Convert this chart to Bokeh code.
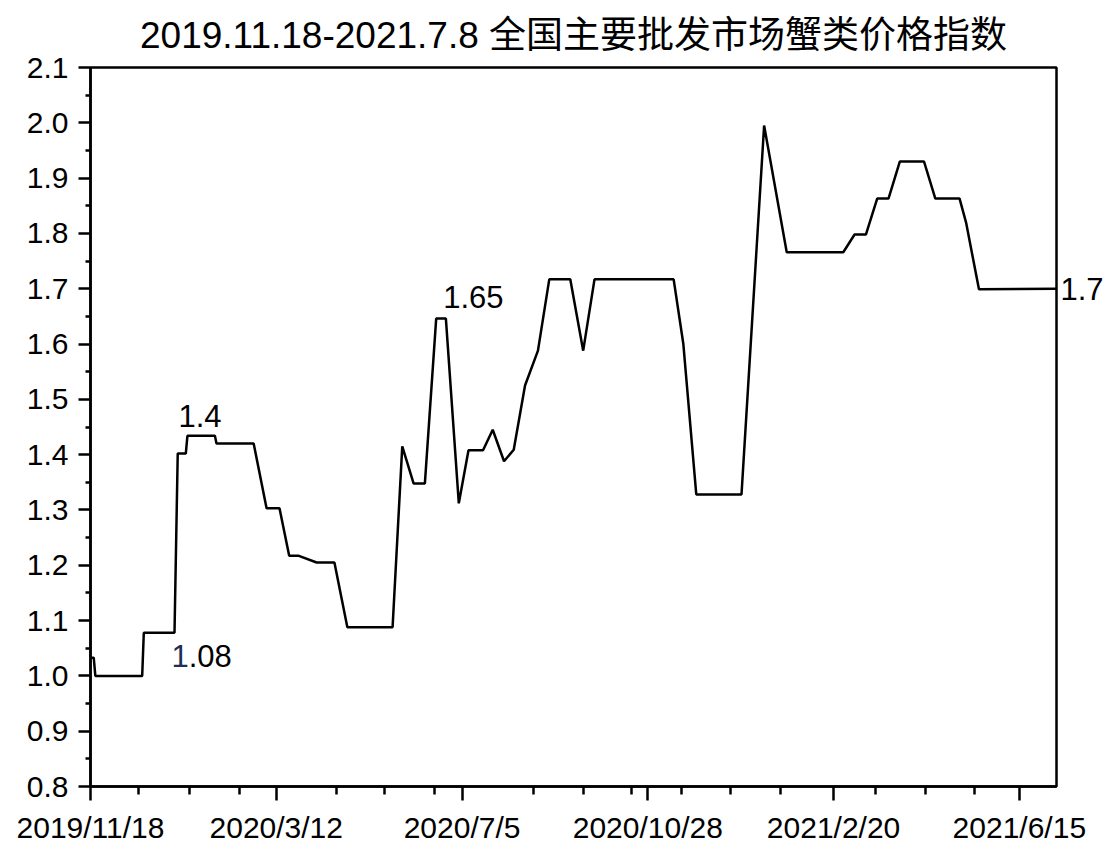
import pandas as pd
from bokeh.plotting import figure
from bokeh.models import (Range1d, FixedTicker, CustomJSTickFormatter, Label,
                          ColumnDataSource, LinearAxis)
from bokeh.embed import file_html
from bokeh.resources import INLINE

# ---------------- data ----------------
title_text = "2019.11.18-2021.7.8 全国主要批发市场蟹类价格指数"

dates = [
    "2019-11-18", "2019-11-20", "2019-11-21", "2019-12-20", "2019-12-21",
    "2020-01-09", "2020-01-11", "2020-01-16", "2020-01-17", "2020-02-03",
    "2020-02-04", "2020-02-27", "2020-03-06", "2020-03-14", "2020-03-20",
    "2020-03-26", "2020-04-06", "2020-04-17", "2020-04-25", "2020-05-23",
    "2020-05-29", "2020-06-05", "2020-06-12", "2020-06-19", "2020-06-25",
    "2020-07-03", "2020-07-09", "2020-07-18", "2020-07-24", "2020-07-31",
    "2020-08-06", "2020-08-13", "2020-08-21", "2020-08-28", "2020-09-10",
    "2020-09-18", "2020-09-25", "2020-11-13", "2020-11-19", "2020-11-27",
    "2020-12-25", "2021-01-08", "2021-01-22", "2021-02-26", "2021-03-05",
    "2021-03-12", "2021-03-19", "2021-03-26", "2021-04-02", "2021-04-17",
    "2021-04-24", "2021-05-09", "2021-05-13", "2021-05-21", "2021-07-08",
]
values = [
    1.033, 1.033, 1.000, 1.000, 1.078,
    1.078, 1.402, 1.402, 1.434, 1.434,
    1.420, 1.420, 1.303, 1.303, 1.217,
    1.217, 1.205, 1.205, 1.088, 1.088,
    1.415, 1.348, 1.348, 1.646, 1.646,
    1.312, 1.408, 1.408, 1.445, 1.388,
    1.409, 1.525, 1.588, 1.717, 1.717,
    1.588, 1.717, 1.717, 1.600, 1.328,
    1.328, 1.995, 1.766, 1.766, 1.798,
    1.798, 1.863, 1.863, 1.930, 1.930,
    1.863, 1.863, 1.820, 1.699, 1.700,
]

x_start = "2019-11-18"
x_end = "2021-07-08"
x_major_ticks = ["2019-11-18", "2020-03-12", "2020-07-05",
                 "2020-10-28", "2021-02-20", "2021-06-15"]
x_minor_ticks = ["2019-12-18", "2020-01-18", "2020-02-18", "2020-04-18",
                 "2020-05-18", "2020-06-18", "2020-08-18", "2020-09-18",
                 "2020-10-18", "2020-11-18", "2020-12-18", "2021-01-18",
                 "2021-03-18", "2021-04-18", "2021-05-18"]
y_min, y_max = 0.8, 2.1
y_major_ticks = [0.8, 0.9, 1.0, 1.1, 1.2, 1.3, 1.4, 1.5, 1.6, 1.7, 1.8, 1.9, 2.0, 2.1]
y_minor_ticks = [0.85, 0.95, 1.05, 1.15, 1.25, 1.35, 1.45, 1.55, 1.65, 1.75,
                 1.85, 1.95, 2.05]

# annotation texts and the data points they belong to
ann_texts = ["1.4", "1.65"]
ann_dates = ["2020-01-17", "2020-06-19"]
ann_values = [1.434, 1.646]
low_text_a, low_text_b = "1", ".08"
low_date, low_value = "2020-01-09", 1.078
end_value = values[-1]   # labelled "1.7" at the right edge


def ms(d):
    return pd.Timestamp(d).value / 1e6


# ---------------- figure ----------------
FONT = "Liberation Sans"
p = figure(width=1108, height=856, output_backend="svg", toolbar_location=None,
           x_range=Range1d(ms(x_start), ms(x_end)),
           y_range=Range1d(y_min, y_max),
           min_border_left=90, min_border_right=52,
           min_border_top=67, min_border_bottom=70,
           background_fill_color="white", border_fill_color="white")

p.title.text = title_text
p.title.align = "center"
p.title.text_font = "Liberation Sans, Noto Sans CJK SC"
p.title.text_font_size = "37px"
p.title.text_font_style = "normal"
p.title.text_color = "black"
p.title.standoff = 24

p.grid.visible = False
p.outline_line_color = "black"
p.outline_line_width = 2.5
p.outline_line_alpha = 1

src = ColumnDataSource(dict(x=[ms(d) for d in dates], y=values))
p.line(x="x", y="y", source=src, line_color="black", line_width=2.5)

xa = p.xaxis[0]
xa.ticker = FixedTicker(ticks=[ms(d) for d in x_major_ticks],
                        minor_ticks=[ms(d) for d in x_minor_ticks])
xa.formatter = CustomJSTickFormatter(code="""
const d = new Date(tick);
return d.getUTCFullYear() + "/" + (d.getUTCMonth() + 1) + "/" + d.getUTCDate();
""")
ya = p.yaxis[0]
ya.ticker = FixedTicker(ticks=y_major_ticks, minor_ticks=y_minor_ticks)
ya.formatter = CustomJSTickFormatter(code="return tick.toFixed(1);")

for ax in (xa, ya):
    ax.axis_line_color = "black"
    ax.axis_line_width = 2.5
    ax.major_tick_line_color = "black"
    ax.major_tick_line_width = 2.5
    ax.minor_tick_line_color = "black"
    ax.minor_tick_line_width = 2.5
    ax.major_tick_in = 0
    ax.minor_tick_in = 0
    ax.major_label_text_font = FONT
    ax.major_label_text_font_size = "30px"
    ax.major_label_text_color = "black"

xa.major_tick_out = 14
xa.minor_tick_out = 8
xa.major_label_standoff = 10
ya.major_tick_out = 12
ya.minor_tick_out = 5
ya.major_label_standoff = 10

# right-hand end label "1.7" drawn as a one-tick axis outside the frame
ra = LinearAxis(ticker=FixedTicker(ticks=[end_value]),
                formatter=CustomJSTickFormatter(code="return tick.toFixed(1);"),
                axis_line_color=None, major_tick_line_color=None,
                minor_tick_line_color=None, major_tick_out=0, major_tick_in=0,
                minor_tick_out=0, minor_tick_in=0, major_label_standoff=4,
                major_label_text_font=FONT, major_label_text_font_size="31px",
                major_label_text_color="black")
p.add_layout(ra, "right")

ann_offsets = [(-9, 20), (7, 22)]
for t, d, v, (dx, dy) in zip(ann_texts, ann_dates, ann_values, ann_offsets):
    p.add_layout(Label(x=ms(d), y=v, text=t, x_offset=dx, y_offset=dy,
                       text_align="left", text_baseline="middle",
                       text_font=FONT, text_font_size="31px",
                       text_color="black"))

p.add_layout(Label(x=ms(low_date), y=low_value, text=low_text_a,
                   x_offset=-3, y_offset=-23, text_align="left",
                   text_baseline="middle", text_font=FONT,
                   text_font_size="31px", text_color="#1f2f55"))
p.add_layout(Label(x=ms(low_date), y=low_value, text=low_text_b,
                   x_offset=-3 + 17.2, y_offset=-23, text_align="left",
                   text_baseline="middle", text_font=FONT,
                   text_font_size="31px", text_color="black"))

open("out.html", "w").write(file_html(p, INLINE))
